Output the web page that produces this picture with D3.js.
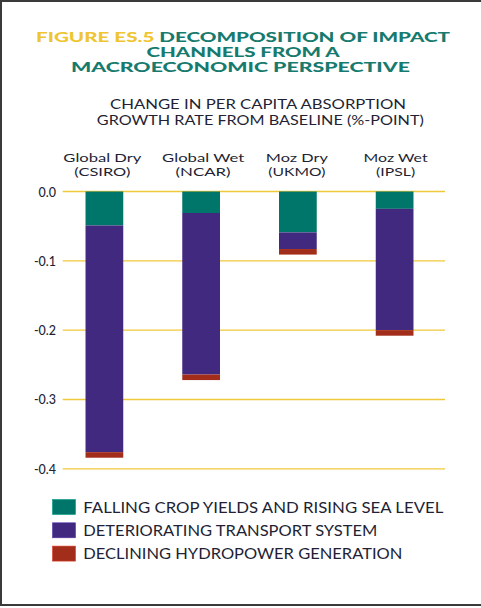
<!DOCTYPE html>
<html><head><meta charset="utf-8">
<script src="https://cdn.jsdelivr.net/npm/d3@7"></script>
<style>body{margin:0;background:#fff}svg{display:block}text{font-family:Lato,"Noto Sans",sans-serif}</style>
</head><body>
<script>
const categories = ["Global Dry|(CSIRO)", "Global Wet|(NCAR)", "Moz Dry|(UKMO)", "Moz Wet|(IPSL)"];
const seriesNames = ["FALLING CROP YIELDS AND RISING SEA LEVEL", "DETERIORATING TRANSPORT SYSTEM", "DECLINING HYDROPOWER GENERATION"];
const cropSea = [-0.049, -0.031, -0.059, -0.025];
const transport = [-0.327, -0.233, -0.024, -0.175];
const hydro = [-0.008, -0.008, -0.008, -0.008];
const yTicks = [0, -0.1, -0.2, -0.3, -0.4];
const colors = ["#00756a", "#41297f", "#a32d1b"];

const W = 481, H = 608;
const svg = d3.select("body").append("svg").attr("width", W).attr("height", H);
svg.append("rect").attr("x", 1).attr("y", 1).attr("width", W + 10).attr("height", 604)
  .attr("fill", "#fff").attr("stroke", "#3a3a3a").attr("stroke-width", 2);

// Title
const tf = 13.5;
const t1 = svg.append("text").attr("x", 243).attr("y", 42).attr("text-anchor", "middle")
  .attr("font-size", tf).attr("font-weight", 900).attr("textLength", 414).attr("lengthAdjust", "spacingAndGlyphs");
t1.append("tspan").attr("fill", "#efc532").text("FIGURE ES.5 ");
t1.append("tspan").attr("fill", "#177a6e").text("DECOMPOSITION OF IMPACT");
svg.append("text").attr("x", 243).attr("y", 57).attr("text-anchor", "middle").attr("fill", "#177a6e")
  .attr("font-size", tf).attr("font-weight", 900).attr("textLength", 193).attr("lengthAdjust", "spacingAndGlyphs")
  .text("CHANNELS FROM A");
svg.append("text").attr("x", 240.5).attr("y", 72).attr("text-anchor", "middle").attr("fill", "#177a6e")
  .attr("font-size", tf).attr("font-weight", 900).attr("textLength", 339).attr("lengthAdjust", "spacingAndGlyphs")
  .text("MACROECONOMIC PERSPECTIVE");

// Subtitle
svg.append("text").attr("x", 258).attr("y", 108.7).attr("text-anchor", "middle").attr("fill", "#231f35")
  .attr("font-size", 13).attr("textLength", 296).attr("lengthAdjust", "spacingAndGlyphs")
  .text("CHANGE IN PER CAPITA ABSORPTION");
svg.append("text").attr("x", 260.3).attr("y", 124.7).attr("text-anchor", "middle").attr("fill", "#231f35")
  .attr("font-size", 13).attr("textLength", 327).attr("lengthAdjust", "spacingAndGlyphs")
  .text("GROWTH RATE FROM BASELINE (%-POINT)");

// Scales
const y = d3.scaleLinear().domain([0, -0.4]).range([191.5, 468.8]);
const x = d3.scaleBand().domain(categories).range([56.5, 442.5]).paddingInner(0.61).paddingOuter(0.3);

// Grid
const gridG = svg.append("g");
gridG.selectAll("line").data(yTicks).join("line")
  .attr("x1", 62.7).attr("x2", 445).attr("y1", d => y(d)).attr("y2", d => y(d))
  .attr("stroke", "#f0c93a").attr("stroke-width", 1.3);

// Y axis labels via d3 axis
const yAxis = d3.axisLeft(y).tickValues(yTicks).tickFormat(d3.format(".1f")).tickSize(0).tickPadding(0);
const ya = svg.append("g").attr("transform", "translate(56,0)").call(yAxis);
ya.select(".domain").remove();
ya.selectAll("text").attr("font-size", 12.5).attr("fill", "#231f35").attr("font-family", "Lato,'Noto Sans',sans-serif")
  .attr("font-weight", 500).attr("dy", "0.36em").text(d => d === 0 ? "0.0" : d3.format(".1f")(d).replace("−", "-"));

// Stacked bars
const series = [cropSea, transport, hydro];
categories.forEach((c, i) => {
  let acc = 0;
  series.forEach((s, k) => {
    const top = acc, bot = acc + s[i];
    svg.append("rect").attr("x", x(c)).attr("width", x.bandwidth())
      .attr("y", y(top)).attr("height", y(bot) - y(top))
      .attr("fill", colors[k]);
    acc = bot;
  });
});

// Category labels
const catG = svg.append("g");
const lineW = [[78, 56], [82, 55], [62, 57], [64, 39]];
categories.forEach((c, i) => {
  const [a, b] = c.split("|");
  const cx = x(c) + x.bandwidth() / 2 - [2, -2, 1, -1][i];
  catG.append("text").attr("text-anchor", "middle").attr("fill", "#231f35").attr("font-size", 11.3)
    .attr("x", cx).attr("y", 162).attr("textLength", lineW[i][0]).attr("lengthAdjust", "spacingAndGlyphs").text(a);
  catG.append("text").attr("text-anchor", "middle").attr("fill", "#231f35").attr("font-size", 11.3)
    .attr("x", cx).attr("y", 175.5).attr("textLength", lineW[i][1]).attr("lengthAdjust", "spacingAndGlyphs").text(b);
});

// Legend
const lg = svg.append("g");
seriesNames.forEach((n, k) => {
  const yy = 499.5 + k * 23.3;
  lg.append("rect").attr("x", 52.5).attr("y", yy).attr("width", 23).attr("height", 15)
    .attr("fill", colors[k]).attr("stroke", d3.color(colors[k]).brighter(0.8)).attr("stroke-width", 0.6);
  lg.append("text").attr("x", 83.3).attr("y", yy + 13).attr("fill", "#231f35").attr("font-size", 14.5)
    .attr("textLength", [360, 294, 319][k]).attr("lengthAdjust", "spacingAndGlyphs").text(n);
});
</script>
</body></html>
